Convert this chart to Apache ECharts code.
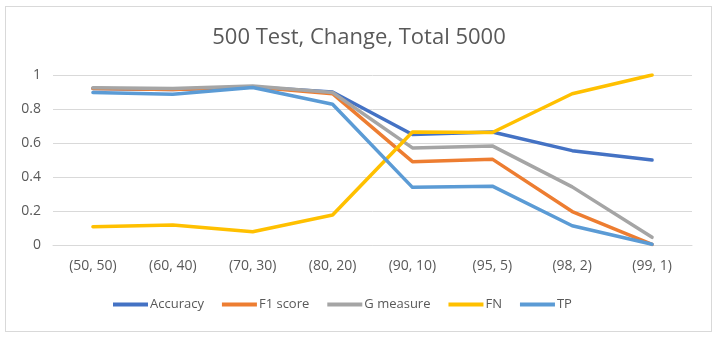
<!DOCTYPE html>
<html>
<head>
<meta charset="utf-8">
<script src="https://cdn.jsdelivr.net/npm/echarts@6/dist/echarts.min.js"></script>
<style>
  html, body { margin: 0; padding: 0; background: #fff; }
  #frame { position: absolute; left: 5px; top: 6px; width: 707px; height: 326px; border: 1px solid #d9d9d9; box-sizing: border-box; }
  #chart { position: absolute; left: 0; top: 0; width: 718px; height: 337px; }
</style>
</head>
<body>
<div id="frame"></div>
<div id="chart"></div>
<script>
const categories = ['(50, 50)', '(60, 40)', '(70, 30)', '(80, 20)', '(90, 10)', '(95, 5)', '(98, 2)', '(99, 1)'];
const accuracy = [0.92, 0.915, 0.93, 0.90, 0.65, 0.665, 0.555, 0.50];
const f1Score = [0.92, 0.915, 0.93, 0.89, 0.49, 0.505, 0.197, 0.003];
const gMeasure = [0.925, 0.92, 0.935, 0.897, 0.571, 0.583, 0.342, 0.045];
const fn = [0.107, 0.117, 0.078, 0.176, 0.665, 0.662, 0.89, 1.0];
const tp = [0.897, 0.887, 0.926, 0.828, 0.339, 0.346, 0.113, 0.004];
const yTicks = [0, 0.2, 0.4, 0.6, 0.8, 1];

const seriesDefs = [
  { name: 'Accuracy', data: accuracy, color: '#4472C4' },
  { name: 'F1 score', data: f1Score, color: '#ED7D31' },
  { name: 'G measure', data: gMeasure, color: '#A5A5A5' },
  { name: 'FN', data: fn, color: '#FFC000' },
  { name: 'TP', data: tp, color: '#5B9BD5' },
];

const chart = echarts.init(document.getElementById('chart'));
chart.setOption({
  animation: false,
  backgroundColor: 'transparent',
  textStyle: { fontFamily: 'Open Sans, Noto Sans, sans-serif' },
  title: {
    text: '500 Test, Change, Total 5000',
    left: 'center',
    top: 22,
    textStyle: { color: '#595959', fontSize: 22, fontWeight: 'normal' },
  },
  legend: {
    bottom: 21,
    left: 108,
    itemWidth: 35,
    itemHeight: 4,
    itemGap: 18,
    icon: 'rect',
    textStyle: { color: '#595959', fontSize: 13, padding: [0, 0, 0, -3] },
    data: seriesDefs.map((s) => s.name),
  },
  grid: { left: 53, right: 26, top: 75, bottom: 92 },
  xAxis: {
    type: 'category',
    data: categories,
    boundaryGap: true,
    axisLine: { show: true, lineStyle: { color: '#d9d9d9' } },
    axisTick: { show: false },
    axisLabel: { color: '#595959', fontSize: 14, margin: 14 },
  },
  yAxis: {
    type: 'value',
    min: 0,
    max: 1,
    interval: 0.2,
    axisLine: { show: false },
    axisTick: { show: false },
    axisLabel: {
      color: '#595959',
      fontSize: 14,
      margin: 12,
      formatter: (v) => (yTicks.includes(Math.round(v * 10) / 10) ? String(Math.round(v * 10) / 10) : ''),
    },
    splitLine: { lineStyle: { color: '#d9d9d9' } },
  },
  series: seriesDefs.map((s) => ({
    name: s.name,
    type: 'line',
    data: s.data,
    symbol: 'none',
    color: s.color,
    lineStyle: { width: 3.5, color: s.color, cap: 'round', join: 'round' },
  })),
});
</script>
</body>
</html>
